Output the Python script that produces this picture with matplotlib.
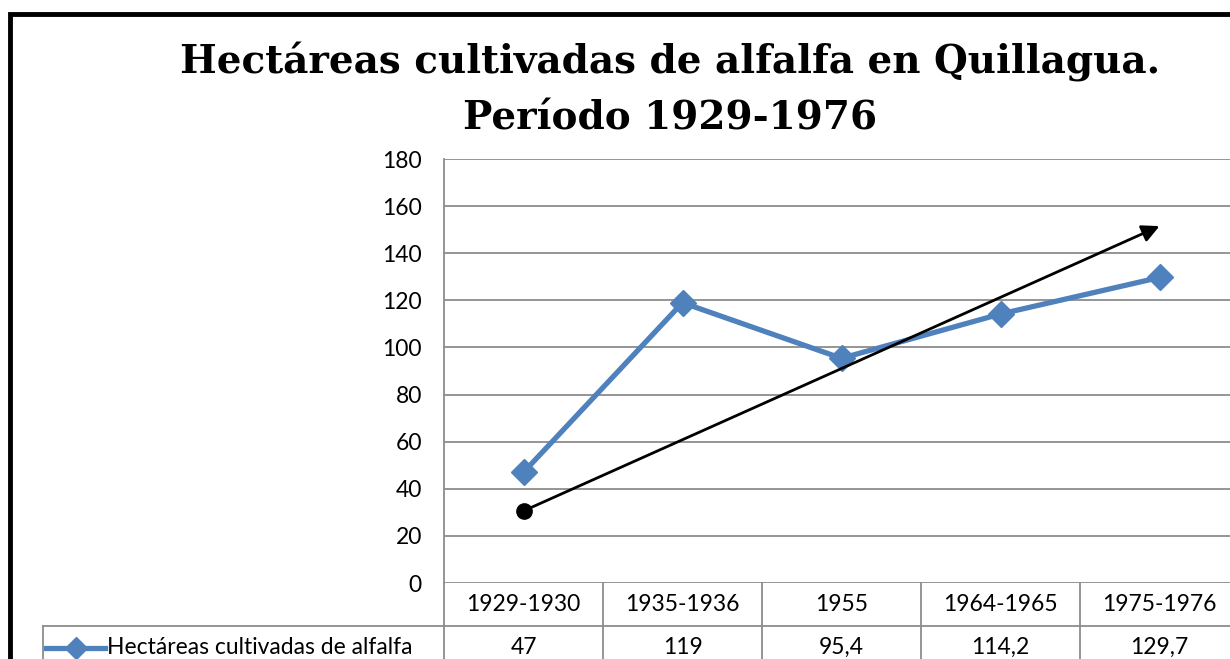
import matplotlib.pyplot as plt
from matplotlib.patches import Rectangle
from matplotlib.lines import Line2D

periods = ['1929-1930', '1935-1936', '1955', '1964-1965', '1975-1976']
hectares = [47, 119, 95.4, 114.2, 129.7]
value_labels = ['47', '119', '95,4', '114,2', '129,7']
series_name = 'Hectáreas cultivadas de alfalfa'
y_ticks = [0, 20, 40, 60, 80, 100, 120, 140, 160, 180]
title_lines = ['Hectáreas cultivadas de alfalfa en Quillagua.', 'Período 1929-1976']

# trend arrow drawn by hand on the original (start / end value)
trend_x = [0, 4]
trend_y = [30.6, 151.5]

blue = '#4F81BD'
grid_c = '#8C8C8C'
label_font = ['Lato', 'DejaVu Sans']
fs = 16.5

W, H = 1230, 659
fig = plt.figure(figsize=(W / 100, H / 100), dpi=100)

# axes placed in pixel terms of the reference; right edge runs past the image
left, right, top, bottom = 444, 1239, 159, 583
ax = fig.add_axes([left / W, 1 - bottom / H, (right - left) / W, (bottom - top) / H])
ax.set_xlim(-0.5, len(periods) - 0.5)
ax.set_ylim(0, 180)
ax.set_yticks(y_ticks)
ax.set_xticks([])
ax.tick_params(axis='y', length=0, pad=16, labelsize=fs)
for lab in ax.get_yticklabels():
    lab.set_family(label_font)
for y in y_ticks:
    ax.axhline(y, color=grid_c, lw=1.3, zorder=1)
for s in ['top', 'right', 'bottom']:
    ax.spines[s].set_visible(False)
ax.spines['left'].set_color(grid_c)
ax.spines['left'].set_linewidth(1.3)

ax.plot(range(len(periods)), hectares, color=blue, lw=3.8, marker='D',
        markersize=13.5, zorder=3, clip_on=False)

ax.plot(trend_x[0], trend_y[0], 'o', color='black', markersize=11, zorder=4)
ax.annotate('', xy=(trend_x[1], trend_y[1]), xytext=(trend_x[0], trend_y[0]),
            arrowprops=dict(arrowstyle='-|>', color='black', lw=2,
                            mutation_scale=26, shrinkA=0, shrinkB=0), zorder=4)

# data table below the plot, in axes-x / axes-fraction-y coords
trans = ax.get_xaxis_transform()
row_h = 43 / (bottom - top)
leg_left = (43 - left) / (right - left) * len(periods) - 0.5
kw = dict(color=grid_c, lw=1.3, clip_on=False, transform=trans)
ax.add_line(Line2D([-0.5, len(periods) - 0.5], [-row_h, -row_h], **kw))
ax.add_line(Line2D([leg_left, -0.5], [-row_h, -row_h], **kw))
ax.add_line(Line2D([leg_left, leg_left], [-row_h, -3 * row_h], **kw))
ax.add_line(Line2D([-0.5, -0.5], [0, -3 * row_h], **kw))
for i in range(len(periods)):
    ax.add_line(Line2D([i + 0.5, i + 0.5], [0, -3 * row_h], **kw))
    ax.text(i, -row_h / 2, periods[i], transform=trans, ha='center', va='center',
            fontsize=fs, family=label_font)
    ax.text(i, -row_h * 1.5, value_labels[i], transform=trans, ha='center',
            va='center', fontsize=fs, family=label_font)

# legend key inside the table
ax.add_line(Line2D([leg_left + 0.02, leg_left + 0.39], [-row_h * 1.5] * 2, color=blue,
                   lw=3.8, clip_on=False, transform=trans))
ax.add_line(Line2D([leg_left + 0.205], [-row_h * 1.5], color=blue, marker='D',
                   markersize=11, clip_on=False, transform=trans))
ax.text(leg_left + 0.405, -row_h * 1.5, series_name, transform=trans, ha='left',
        va='center', fontsize=fs, family=label_font)

for k, yc in enumerate([62, 118]):
    fig.text(670 / W, 1 - yc / H, title_lines[k], ha='center', va='center',
             fontsize=28, fontweight='bold', family=['DejaVu Serif'])

# outer chart border (only top/left visible in the reference crop)
fig.patches.append(Rectangle((10 / W, -0.1), 1.2, 1 - 14 / H + 0.1,
                             transform=fig.transFigure, fill=False,
                             edgecolor='black', lw=3.5))

fig.savefig('out.png', dpi=100)
